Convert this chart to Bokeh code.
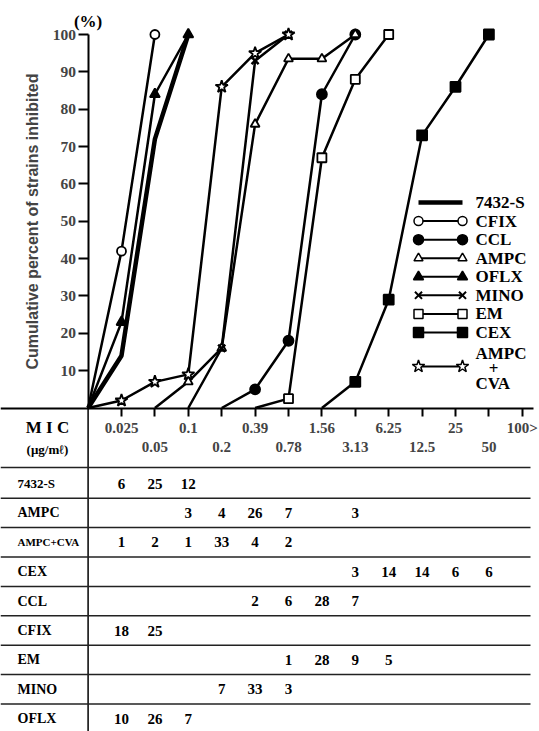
from bokeh.plotting import figure
from bokeh.models import Range1d, LinearAxis, FixedTicker, ColumnDataSource
from bokeh.core.properties import value
from bokeh.embed import file_html
from bokeh.resources import INLINE

# ---------------- data ----------------
# MIC steps (index 1..13); index 0 is the origin of the scale
mic_labels = ["0.025", "0.05", "0.1", "0.2", "0.39", "0.78", "1.56",
              "3.13", "6.25", "12.5", "25", "50", "100>"]
y_ticks = [10, 20, 30, 40, 50, 60, 70, 80, 90, 100]

# cumulative percent of strains inhibited (x = MIC step index)
s7432_x = [0, 1, 2, 3];             s7432_y = [0, 14, 72, 100]
cfix_x = [0, 1, 2];                 cfix_y = [0, 42, 100]
ccl_x = [4, 5, 6, 7, 8];            ccl_y = [0, 5, 18, 84, 100]
ampc_x = [2, 3, 4, 5, 6, 7, 8];     ampc_y = [0, 7, 16, 76, 93.5, 93.5, 100]
oflx_x = [0, 1, 2, 3];              oflx_y = [0, 23, 84, 100]
mino_x = [3, 4, 5, 6];              mino_y = [0, 16, 93, 100]
em_x = [5, 6, 7, 8, 9];             em_y = [0, 2.5, 67, 88, 100]
cex_x = [7, 8, 9, 10, 11, 12];      cex_y = [0, 7, 29, 73, 86, 100]
cva_x = [0, 1, 2, 3, 4, 5, 6];      cva_y = [0, 2, 7, 9, 86, 95, 100]

# MIC distribution table (number of strains at each MIC step)
table_rows = ["7432-S", "AMPC", "AMPC+CVA", "CEX", "CCL", "CFIX", "EM", "MINO", "OFLX"]
n_7432s = [6, 25, 12, None, None, None, None, None, None, None, None, None, None]
n_ampc = [None, None, 3, 4, 26, 7, None, 3, None, None, None, None, None]
n_cva = [1, 2, 1, 33, 4, 2, None, None, None, None, None, None, None]
n_cex = [None, None, None, None, None, None, None, 3, 14, 14, 6, 6, None]
n_ccl = [None, None, None, None, 2, 6, 28, 7, None, None, None, None, None]
n_cfix = [18, 25, None, None, None, None, None, None, None, None, None, None, None]
n_em = [None, None, None, None, None, 1, 28, 9, 5, None, None, None, None]
n_mino = [None, None, None, 7, 33, 3, None, None, None, None, None, None, None]
n_oflx = [10, 26, 7, None, None, None, None, None, None, None, None, None, None]
table_counts = [n_7432s, n_ampc, n_cva, n_cex, n_ccl, n_cfix, n_em, n_mino, n_oflx]

# ---------------- layout helpers (pixel -> data) ----------------
W, H = 539, 731
X_ORG, X_STEP = 87.6, 33.4       # px of index 0, px per MIC step
Y_ZERO, Y_PER = 407.5, 3.735     # px of 0 %, px per 1 %
R_ZERO, R_STEP = 483.0, 29.4     # px of first table row, px per row


def fx(px):
    return (px - X_ORG) / X_STEP


def fy(py):
    return (Y_ZERO - py) / Y_PER


def fr(py):
    return (py - R_ZERO) / R_STEP


SERIF = value("Liberation Serif")

p = figure(width=W, height=H, x_range=Range1d(fx(0), fx(W)), y_range=Range1d(fy(H), fy(0)),
           x_axis_type=None, y_axis_type=None, toolbar_location=None,
           output_backend="svg", min_border=0, outline_line_color=None)
p.extra_y_ranges = {"rows": Range1d(fr(H), fr(0))}
p.background_fill_color = "white"

# ---------------- axes ----------------
yax = LinearAxis(fixed_location=0, ticker=FixedTicker(ticks=y_ticks), bounds=(0, 100),
                 axis_label="Cumulative percent of strains inhibited",
                 axis_label_text_font="Liberation Sans", axis_label_text_font_style="bold",
                 axis_label_text_font_size="16px", axis_label_standoff=9,
                 major_label_text_font="Liberation Serif", major_label_text_font_style="bold",
                 major_label_text_font_size="15.5px", major_label_standoff=2,
                 major_tick_out=10, major_tick_in=0, minor_tick_out=0, minor_tick_in=0,
                 axis_line_width=2, major_tick_line_width=2)
p.add_layout(yax, "left")

odd = list(range(1, 14, 2))
even = list(range(2, 13, 2))
xax1 = LinearAxis(fixed_location=0, ticker=FixedTicker(ticks=odd), bounds=(fx(0), fx(533)),
                  major_label_overrides={i: mic_labels[i - 1] for i in odd},
                  major_label_text_font="Liberation Serif", major_label_text_font_style="bold",
                  major_label_text_font_size="15px", major_label_standoff=4,
                  major_tick_out=8, major_tick_in=0, minor_tick_out=0, minor_tick_in=0,
                  axis_line_width=2, major_tick_line_width=2)
xax2 = LinearAxis(fixed_location=0, ticker=FixedTicker(ticks=even), bounds=(fx(0), fx(533)),
                  major_label_overrides={i: mic_labels[i - 1] for i in even},
                  major_label_text_font="Liberation Serif", major_label_text_font_style="bold",
                  major_label_text_font_size="15px", major_label_standoff=26,
                  major_tick_out=8, major_tick_in=0, minor_tick_out=0, minor_tick_in=0,
                  axis_line_color=None, major_tick_line_width=2)
p.add_layout(xax1, "below")
p.add_layout(xax2, "below")

# continuation of the vertical axis line through the table
p.segment(x0=[0], x1=[0], y0=[0], y1=[fy(H)], line_color="black", line_width=1.5)

p.text(x=[0], y=[fy(21)], text=["(%)"], text_font=SERIF, text_font_style="bold",
       text_font_size="17px", text_align="center", text_baseline="middle")

# ---------------- curves ----------------
series = [
    ("7432-S", s7432_x, s7432_y, None, {}, 4.5),
    ("CFIX", cfix_x, cfix_y, "circle", dict(size=9, fill_color="white"), 2.5),
    ("CCL", ccl_x, ccl_y, "circle", dict(size=10, fill_color="black"), 2.5),
    ("AMPC", ampc_x, ampc_y, "triangle", dict(size=9, fill_color="white"), 2.5),
    ("OFLX", oflx_x, oflx_y, "triangle", dict(size=10, fill_color="black"), 2.5),
    ("MINO", mino_x, mino_y, "x", dict(size=10), 2.5),
    ("EM", em_x, em_y, "square", dict(size=9, fill_color="white"), 2.5),
    ("CEX", cex_x, cex_y, "square", dict(size=10, fill_color="black"), 2.5),
    ("AMPC+CVA", cva_x, cva_y, "star", dict(size=13, fill_color="white"), 2.5),
]

for name, xs, ys, mk, st, lw in series:
    p.line(xs, ys, line_color="black", line_width=lw)
for name, xs, ys, mk, st, lw in series:
    if mk:
        p.scatter(xs[1:], ys[1:], marker=mk, line_color="black",
                  line_width=2.5 if mk == "x" else 1.8, **st)

# ---------------- legend (drawn) ----------------
leg_x0, leg_x1, leg_tx = fx(418), fx(462), fx(475)
for k, (name, xs, ys, mk, st, lw) in enumerate(series):
    if name == "AMPC+CVA":
        ly = fy(366)
        p.text(x=[leg_tx, leg_tx], y=[fy(353), fy(382.5)], text=["AMPC", "CVA"],
               text_font=SERIF, text_font_style="bold", text_font_size="17px",
               text_baseline="middle")
        p.text(x=[fx(493)], y=[fy(368)], text=["+"], text_font=SERIF, text_font_style="bold",
               text_font_size="17px", text_align="center", text_baseline="middle")
    else:
        ly = fy(202 + 18.57 * k)
        p.text(x=[leg_tx], y=[ly], text=[name], text_font=SERIF, text_font_style="bold",
               text_font_size="17px", text_baseline="middle")
    p.line([leg_x0, leg_x1], [ly, ly], line_color="black", line_width=lw if name == "7432-S" else 2)
    if mk:
        p.scatter([leg_x0, leg_x1], [ly, ly], marker=mk, line_color="black",
                  line_width=2 if mk == "x" else 1.5, **st)

# ---------------- table ----------------
p.text(x=[fx(47)], y=[fr(427)], text=["M I C"], text_font=SERIF, text_font_style="bold",
       text_font_size="17px", text_align="center", text_baseline="middle", y_range_name="rows")
p.text(x=[fx(47)], y=[fr(449)], text=["(μg/mℓ)"], text_font=SERIF, text_font_style="bold",
       text_font_size="13px", text_align="center", text_baseline="middle", y_range_name="rows")

sep_y = [fr(467)] + [k + 0.5 for k in range(len(table_rows) - 1)]
p.segment(x0=[fx(0)] * len(sep_y), x1=[fx(530)] * len(sep_y), y0=sep_y, y1=sep_y,
          line_color="#222222", line_width=1.5, y_range_name="rows")

label_sizes = {"7432-S": "13px", "AMPC+CVA": "11px"}
for r, name in enumerate(table_rows):
    p.text(x=[fx(17)], y=[r], text=[name], text_font=SERIF, text_font_style="bold",
           text_font_size=label_sizes.get(name, "14px"), text_baseline="middle",
           y_range_name="rows")
    counts = table_counts[r]
    cx = [i + 1 for i, c in enumerate(counts) if c is not None]
    ct = [str(c) for c in counts if c is not None]
    src = ColumnDataSource(dict(x=cx, y=[r] * len(cx), t=ct))
    p.text(x="x", y="y", text="t", source=src, text_font=SERIF, text_font_style="bold",
           text_font_size="15px", text_align="center", text_baseline="middle",
           y_range_name="rows")

open("out.html", "w").write(file_html(p, INLINE))
